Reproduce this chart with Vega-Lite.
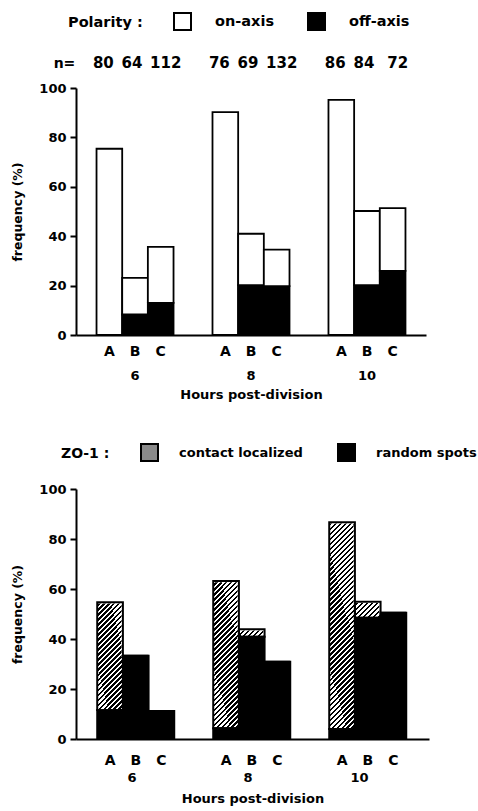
{
  "$schema": "https://vega.github.io/schema/vega-lite/v6.json",
  "background": "white",
  "padding": {"left": 11, "right": 5, "top": 12, "bottom": 5},
  "spacing": 42,
  "resolve": {"scale": {"fill": "independent"}, "legend": {"fill": "independent"}},
  "config": {
    "font": "DejaVu Sans",
    "view": {"stroke": null},
    "axis": {"labelFont": "DejaVu Sans", "titleFont": "DejaVu Sans", "labelFontWeight": "bold", "titleFontWeight": "bold", "labelColor": "black", "titleColor": "black", "domainColor": "black", "tickColor": "black", "domainWidth": 2, "tickWidth": 2, "grid": false},
    "legend": {"labelFont": "DejaVu Sans", "titleFont": "DejaVu Sans", "labelFontWeight": "bold", "titleFontWeight": "bold", "labelColor": "black", "titleColor": "black", "labelLimit": 300, "titleLimit": 300},
    "text": {"font": "DejaVu Sans", "fontWeight": "bold", "color": "black"}
  },
  "datasets": {
    "polarity": [
      {"h": "6", "g": "A", "type": "off-axis", "v": 0}, {"h": "6", "g": "A", "type": "on-axis", "v": 75.4},
      {"h": "6", "g": "B", "type": "off-axis", "v": 8.3}, {"h": "6", "g": "B", "type": "on-axis", "v": 14.8},
      {"h": "6", "g": "C", "type": "off-axis", "v": 13}, {"h": "6", "g": "C", "type": "on-axis", "v": 22.7},
      {"h": "8", "g": "A", "type": "off-axis", "v": 0}, {"h": "8", "g": "A", "type": "on-axis", "v": 90.2},
      {"h": "8", "g": "B", "type": "off-axis", "v": 20.2}, {"h": "8", "g": "B", "type": "on-axis", "v": 20.8},
      {"h": "8", "g": "C", "type": "off-axis", "v": 19.8}, {"h": "8", "g": "C", "type": "on-axis", "v": 14.8},
      {"h": "10", "g": "A", "type": "off-axis", "v": 0}, {"h": "10", "g": "A", "type": "on-axis", "v": 95.2},
      {"h": "10", "g": "B", "type": "off-axis", "v": 20.2}, {"h": "10", "g": "B", "type": "on-axis", "v": 30},
      {"h": "10", "g": "C", "type": "off-axis", "v": 26}, {"h": "10", "g": "C", "type": "on-axis", "v": 25.4}
    ],
    "polarity_n": [
      {"h": "6", "g": "A", "n": "80"}, {"h": "6", "g": "B", "n": "64"}, {"h": "6", "g": "C", "n": "112"},
      {"h": "8", "g": "A", "n": "76"}, {"h": "8", "g": "B", "n": "69"}, {"h": "8", "g": "C", "n": "132"},
      {"h": "10", "g": "A", "n": "86"}, {"h": "10", "g": "B", "n": "84"}, {"h": "10", "g": "C", "n": "72"}
    ],
    "zo1": [
      {"h": "6", "g": "A", "type": "random spots", "v": 11.6}, {"h": "6", "g": "A", "type": "contact localized", "v": 43.1},
      {"h": "6", "g": "B", "type": "random spots", "v": 33.3}, {"h": "6", "g": "B", "type": "contact localized", "v": 0},
      {"h": "6", "g": "C", "type": "random spots", "v": 11.2}, {"h": "6", "g": "C", "type": "contact localized", "v": 0},
      {"h": "8", "g": "A", "type": "random spots", "v": 4.3}, {"h": "8", "g": "A", "type": "contact localized", "v": 58.9},
      {"h": "8", "g": "B", "type": "random spots", "v": 40.9}, {"h": "8", "g": "B", "type": "contact localized", "v": 3},
      {"h": "8", "g": "C", "type": "random spots", "v": 30.9}, {"h": "8", "g": "C", "type": "contact localized", "v": 0},
      {"h": "10", "g": "A", "type": "random spots", "v": 4}, {"h": "10", "g": "A", "type": "contact localized", "v": 82.7},
      {"h": "10", "g": "B", "type": "random spots", "v": 48.5}, {"h": "10", "g": "B", "type": "contact localized", "v": 6.4},
      {"h": "10", "g": "C", "type": "random spots", "v": 50.5}, {"h": "10", "g": "C", "type": "contact localized", "v": 0}
    ]
  },
  "vconcat": [
    {
      "width": 350,
      "height": 247,
      "layer": [
        {
          "data": {"name": "polarity"},
          "mark": {"type": "bar", "stroke": "black", "strokeWidth": 1.8},
          "encoding": {
            "x": {"field": "h", "type": "nominal", "sort": ["6", "8", "10"], "title": "Hours post-division",
                  "scale": {"paddingInner": 0.336, "paddingOuter": 0.177},
                  "axis": {"labelAngle": 0, "ticks": false, "tickSize": 0, "labelPadding": 34, "labelFontSize": 13, "titleFontSize": 13, "titlePadding": 6}},
            "xOffset": {"field": "g", "type": "nominal", "sort": ["A", "B", "C"], "scale": {"paddingInner": 0, "paddingOuter": 0}},
            "y": {"field": "v", "type": "quantitative", "stack": "zero", "title": "frequency (%)",
                  "scale": {"domain": [0, 100], "nice": false},
                  "axis": {"values": [0, 10, 20, 30, 40, 50, 60, 70, 80, 90, 100],
                           "labelExpr": "datum.value % 20 === 0 ? datum.label : ''",
                           "tickSize": {"condition": {"test": "datum.value % 20 === 0", "value": 6}, "value": 3},
                           "labelPadding": 4, "labelFontSize": 13, "titleFontSize": 12.5, "titlePadding": 14}},
            "fill": {"field": "type", "type": "nominal",
                     "scale": {"domain": ["on-axis", "off-axis"], "range": ["white", "black"]},
                     "legend": {"title": "Polarity :", "orient": "none", "legendX": -8, "legendY": -76, "direction": "horizontal", "titleOrient": "left",
                                "symbolType": "square", "symbolSize": 289, "symbolStrokeColor": "black", "symbolStrokeWidth": 2,
                                "labelFontSize": 14.5, "titleFontSize": 14.5, "labelOffset": 23, "columnPadding": 29, "titlePadding": 30}},
            "order": {"field": "type", "type": "nominal", "sort": "ascending"}
          }
        },
        {
          "data": {"name": "polarity_n"},
          "transform": [{"filter": "datum.g === 'A'"}],
          "mark": {"type": "text", "fontSize": 15, "baseline": "alphabetic", "dx": -6},
          "encoding": {
            "x": {"field": "h", "type": "nominal", "sort": ["6", "8", "10"], "title": "Hours post-division"},
            "xOffset": {"field": "g", "type": "nominal", "sort": ["A", "B", "C"]},
            "y": {"datum": 108, "type": "quantitative", "title": "frequency (%)"},
            "text": {"field": "n"}
          }
        },
        {
          "data": {"name": "polarity_n"},
          "transform": [{"filter": "datum.g === 'B'"}],
          "mark": {"type": "text", "fontSize": 15, "baseline": "alphabetic", "dx": -3},
          "encoding": {
            "x": {"field": "h", "type": "nominal", "sort": ["6", "8", "10"], "title": "Hours post-division"},
            "xOffset": {"field": "g", "type": "nominal", "sort": ["A", "B", "C"]},
            "y": {"datum": 108, "type": "quantitative", "title": "frequency (%)"},
            "text": {"field": "n"}
          }
        },
        {
          "data": {"name": "polarity_n"},
          "transform": [{"filter": "datum.g === 'C'"}],
          "mark": {"type": "text", "fontSize": 15, "baseline": "alphabetic", "dx": 5},
          "encoding": {
            "x": {"field": "h", "type": "nominal", "sort": ["6", "8", "10"], "title": "Hours post-division"},
            "xOffset": {"field": "g", "type": "nominal", "sort": ["A", "B", "C"]},
            "y": {"datum": 108, "type": "quantitative", "title": "frequency (%)"},
            "text": {"field": "n"}
          }
        },
        {
          "data": {"name": "polarity_n"},
          "transform": [{"filter": "datum.h === '6' && datum.g === 'A'"}],
          "mark": {"type": "text", "fontSize": 14, "baseline": "alphabetic", "align": "right", "dx": -34},
          "encoding": {
            "x": {"field": "h", "type": "nominal", "sort": ["6", "8", "10"], "title": "Hours post-division"},
            "xOffset": {"field": "g", "type": "nominal", "sort": ["A", "B", "C"]},
            "y": {"datum": 108, "type": "quantitative", "title": "frequency (%)"},
            "text": {"value": "n="}
          }
        },
        {
          "data": {"name": "polarity_n"},
          "mark": {"type": "text", "fontSize": 14, "baseline": "top"},
          "encoding": {
            "x": {"field": "h", "type": "nominal", "sort": ["6", "8", "10"], "title": "Hours post-division"},
            "xOffset": {"field": "g", "type": "nominal", "sort": ["A", "B", "C"]},
            "y": {"datum": -4, "type": "quantitative", "title": "frequency (%)"},
            "text": {"field": "g"}
          }
        }
      ]
    },
    {
      "width": 353,
      "height": 250,
      "data": {"name": "zo1"},
      "layer": [
        {
          "transform": [{"filter": "datum.type === 'contact localized' && datum.v > 0"}],
          "mark": {"type": "bar", "strokeWidth": 0, "fill": {"gradient": "linear", "x1": 0, "y1": 0, "x2": 0.11453, "y2": 1.0928, "stops": [
            {"offset":0,"color":"#000"},
            {"offset":0.00909,"color":"#000"},{"offset":0.00909,"color":"#fff"},
            {"offset":0.01818,"color":"#fff"},{"offset":0.01818,"color":"#000"},
            {"offset":0.02727,"color":"#000"},{"offset":0.02727,"color":"#fff"},
            {"offset":0.03636,"color":"#fff"},{"offset":0.03636,"color":"#000"},
            {"offset":0.04545,"color":"#000"},{"offset":0.04545,"color":"#fff"},
            {"offset":0.05455,"color":"#fff"},{"offset":0.05455,"color":"#000"},
            {"offset":0.06364,"color":"#000"},{"offset":0.06364,"color":"#fff"},
            {"offset":0.07273,"color":"#fff"},{"offset":0.07273,"color":"#000"},
            {"offset":0.08182,"color":"#000"},{"offset":0.08182,"color":"#fff"},
            {"offset":0.09091,"color":"#fff"},{"offset":0.09091,"color":"#000"},
            {"offset":0.1,"color":"#000"},{"offset":0.1,"color":"#fff"},
            {"offset":0.10909,"color":"#fff"},{"offset":0.10909,"color":"#000"},
            {"offset":0.11818,"color":"#000"},{"offset":0.11818,"color":"#fff"},
            {"offset":0.12727,"color":"#fff"},{"offset":0.12727,"color":"#000"},
            {"offset":0.13636,"color":"#000"},{"offset":0.13636,"color":"#fff"},
            {"offset":0.14545,"color":"#fff"},{"offset":0.14545,"color":"#000"},
            {"offset":0.15455,"color":"#000"},{"offset":0.15455,"color":"#fff"},
            {"offset":0.16364,"color":"#fff"},{"offset":0.16364,"color":"#000"},
            {"offset":0.17273,"color":"#000"},{"offset":0.17273,"color":"#fff"},
            {"offset":0.18182,"color":"#fff"},{"offset":0.18182,"color":"#000"},
            {"offset":0.19091,"color":"#000"},{"offset":0.19091,"color":"#fff"},
            {"offset":0.2,"color":"#fff"},{"offset":0.2,"color":"#000"},
            {"offset":0.20909,"color":"#000"},{"offset":0.20909,"color":"#fff"},
            {"offset":0.21818,"color":"#fff"},{"offset":0.21818,"color":"#000"},
            {"offset":0.22727,"color":"#000"},{"offset":0.22727,"color":"#fff"},
            {"offset":0.23636,"color":"#fff"},{"offset":0.23636,"color":"#000"},
            {"offset":0.24545,"color":"#000"},{"offset":0.24545,"color":"#fff"},
            {"offset":0.25455,"color":"#fff"},{"offset":0.25455,"color":"#000"},
            {"offset":0.26364,"color":"#000"},{"offset":0.26364,"color":"#fff"},
            {"offset":0.27273,"color":"#fff"},{"offset":0.27273,"color":"#000"},
            {"offset":0.28182,"color":"#000"},{"offset":0.28182,"color":"#fff"},
            {"offset":0.29091,"color":"#fff"},{"offset":0.29091,"color":"#000"},
            {"offset":0.3,"color":"#000"},{"offset":0.3,"color":"#fff"},
            {"offset":0.30909,"color":"#fff"},{"offset":0.30909,"color":"#000"},
            {"offset":0.31818,"color":"#000"},{"offset":0.31818,"color":"#fff"},
            {"offset":0.32727,"color":"#fff"},{"offset":0.32727,"color":"#000"},
            {"offset":0.33636,"color":"#000"},{"offset":0.33636,"color":"#fff"},
            {"offset":0.34545,"color":"#fff"},{"offset":0.34545,"color":"#000"},
            {"offset":0.35455,"color":"#000"},{"offset":0.35455,"color":"#fff"},
            {"offset":0.36364,"color":"#fff"},{"offset":0.36364,"color":"#000"},
            {"offset":0.37273,"color":"#000"},{"offset":0.37273,"color":"#fff"},
            {"offset":0.38182,"color":"#fff"},{"offset":0.38182,"color":"#000"},
            {"offset":0.39091,"color":"#000"},{"offset":0.39091,"color":"#fff"},
            {"offset":0.4,"color":"#fff"},{"offset":0.4,"color":"#000"},
            {"offset":0.40909,"color":"#000"},{"offset":0.40909,"color":"#fff"},
            {"offset":0.41818,"color":"#fff"},{"offset":0.41818,"color":"#000"},
            {"offset":0.42727,"color":"#000"},{"offset":0.42727,"color":"#fff"},
            {"offset":0.43636,"color":"#fff"},{"offset":0.43636,"color":"#000"},
            {"offset":0.44545,"color":"#000"},{"offset":0.44545,"color":"#fff"},
            {"offset":0.45455,"color":"#fff"},{"offset":0.45455,"color":"#000"},
            {"offset":0.46364,"color":"#000"},{"offset":0.46364,"color":"#fff"},
            {"offset":0.47273,"color":"#fff"},{"offset":0.47273,"color":"#000"},
            {"offset":0.48182,"color":"#000"},{"offset":0.48182,"color":"#fff"},
            {"offset":0.49091,"color":"#fff"},{"offset":0.49091,"color":"#000"},
            {"offset":0.5,"color":"#000"},{"offset":0.5,"color":"#fff"},
            {"offset":0.50909,"color":"#fff"},{"offset":0.50909,"color":"#000"},
            {"offset":0.51818,"color":"#000"},{"offset":0.51818,"color":"#fff"},
            {"offset":0.52727,"color":"#fff"},{"offset":0.52727,"color":"#000"},
            {"offset":0.53636,"color":"#000"},{"offset":0.53636,"color":"#fff"},
            {"offset":0.54545,"color":"#fff"},{"offset":0.54545,"color":"#000"},
            {"offset":0.55455,"color":"#000"},{"offset":0.55455,"color":"#fff"},
            {"offset":0.56364,"color":"#fff"},{"offset":0.56364,"color":"#000"},
            {"offset":0.57273,"color":"#000"},{"offset":0.57273,"color":"#fff"},
            {"offset":0.58182,"color":"#fff"},{"offset":0.58182,"color":"#000"},
            {"offset":0.59091,"color":"#000"},{"offset":0.59091,"color":"#fff"},
            {"offset":0.6,"color":"#fff"},{"offset":0.6,"color":"#000"},
            {"offset":0.60909,"color":"#000"},{"offset":0.60909,"color":"#fff"},
            {"offset":0.61818,"color":"#fff"},{"offset":0.61818,"color":"#000"},
            {"offset":0.62727,"color":"#000"},{"offset":0.62727,"color":"#fff"},
            {"offset":0.63636,"color":"#fff"},{"offset":0.63636,"color":"#000"},
            {"offset":0.64545,"color":"#000"},{"offset":0.64545,"color":"#fff"},
            {"offset":0.65455,"color":"#fff"},{"offset":0.65455,"color":"#000"},
            {"offset":0.66364,"color":"#000"},{"offset":0.66364,"color":"#fff"},
            {"offset":0.67273,"color":"#fff"},{"offset":0.67273,"color":"#000"},
            {"offset":0.68182,"color":"#000"},{"offset":0.68182,"color":"#fff"},
            {"offset":0.69091,"color":"#fff"},{"offset":0.69091,"color":"#000"},
            {"offset":0.7,"color":"#000"},{"offset":0.7,"color":"#fff"},
            {"offset":0.70909,"color":"#fff"},{"offset":0.70909,"color":"#000"},
            {"offset":0.71818,"color":"#000"},{"offset":0.71818,"color":"#fff"},
            {"offset":0.72727,"color":"#fff"},{"offset":0.72727,"color":"#000"},
            {"offset":0.73636,"color":"#000"},{"offset":0.73636,"color":"#fff"},
            {"offset":0.74545,"color":"#fff"},{"offset":0.74545,"color":"#000"},
            {"offset":0.75455,"color":"#000"},{"offset":0.75455,"color":"#fff"},
            {"offset":0.76364,"color":"#fff"},{"offset":0.76364,"color":"#000"},
            {"offset":0.77273,"color":"#000"},{"offset":0.77273,"color":"#fff"},
            {"offset":0.78182,"color":"#fff"},{"offset":0.78182,"color":"#000"},
            {"offset":0.79091,"color":"#000"},{"offset":0.79091,"color":"#fff"},
            {"offset":0.8,"color":"#fff"},{"offset":0.8,"color":"#000"},
            {"offset":0.80909,"color":"#000"},{"offset":0.80909,"color":"#fff"},
            {"offset":0.81818,"color":"#fff"},{"offset":0.81818,"color":"#000"},
            {"offset":0.82727,"color":"#000"},{"offset":0.82727,"color":"#fff"},
            {"offset":0.83636,"color":"#fff"},{"offset":0.83636,"color":"#000"},
            {"offset":0.84545,"color":"#000"},{"offset":0.84545,"color":"#fff"},
            {"offset":0.85455,"color":"#fff"},{"offset":0.85455,"color":"#000"},
            {"offset":0.86364,"color":"#000"},{"offset":0.86364,"color":"#fff"},
            {"offset":0.87273,"color":"#fff"},{"offset":0.87273,"color":"#000"},
            {"offset":0.88182,"color":"#000"},{"offset":0.88182,"color":"#fff"},
            {"offset":0.89091,"color":"#fff"},{"offset":0.89091,"color":"#000"},
            {"offset":0.9,"color":"#000"},{"offset":0.9,"color":"#fff"},
            {"offset":0.90909,"color":"#fff"},{"offset":0.90909,"color":"#000"},
            {"offset":0.91818,"color":"#000"},{"offset":0.91818,"color":"#fff"},
            {"offset":0.92727,"color":"#fff"},{"offset":0.92727,"color":"#000"},
            {"offset":0.93636,"color":"#000"},{"offset":0.93636,"color":"#fff"},
            {"offset":0.94545,"color":"#fff"},{"offset":0.94545,"color":"#000"},
            {"offset":0.95455,"color":"#000"},{"offset":0.95455,"color":"#fff"},
            {"offset":0.96364,"color":"#fff"},{"offset":0.96364,"color":"#000"},
            {"offset":0.97273,"color":"#000"},{"offset":0.97273,"color":"#fff"},
            {"offset":0.98182,"color":"#fff"},{"offset":0.98182,"color":"#000"},
            {"offset":0.99091,"color":"#000"},{"offset":0.99091,"color":"#fff"},
            {"offset":1,"color":"#fff"}
          ]}},
          "encoding": {
            "x": {"field": "h", "type": "nominal", "sort": ["6", "8", "10"], "title": "Hours post-division"},
            "xOffset": {"field": "g", "type": "nominal", "sort": ["A", "B", "C"]},
            "y": {"datum": 100, "type": "quantitative", "title": "frequency (%)"},
            "y2": {"datum": 0}
          }
        },
        {
          "mark": {"type": "bar", "fill": "white", "stroke": "white", "strokeWidth": 2.5},
          "encoding": {
            "x": {"field": "h", "type": "nominal", "sort": ["6", "8", "10"], "title": "Hours post-division"},
            "xOffset": {"field": "g", "type": "nominal", "sort": ["A", "B", "C"]},
            "y": {"aggregate": "sum", "field": "v", "type": "quantitative", "title": "frequency (%)"},
            "y2": {"datum": 100}
          }
        },
        {
          "mark": {"type": "bar", "stroke": "black", "strokeWidth": 2},
          "encoding": {
            "x": {"field": "h", "type": "nominal", "sort": ["6", "8", "10"], "title": "Hours post-division",
                  "scale": {"paddingInner": 0.323, "paddingOuter": 0.183},
                  "axis": {"labelAngle": 0, "ticks": false, "tickSize": 0, "labelPadding": 38, "labelFontSize": 13, "titleFontSize": 13, "titlePadding": 8}},
            "xOffset": {"field": "g", "type": "nominal", "sort": ["A", "B", "C"], "scale": {"paddingInner": 0, "paddingOuter": 0}},
            "y": {"field": "v", "type": "quantitative", "stack": "zero", "title": "frequency (%)",
                  "scale": {"domain": [0, 100], "nice": false},
                  "axis": {"values": [0, 10, 20, 30, 40, 50, 60, 70, 80, 90, 100],
                           "labelExpr": "datum.value % 20 === 0 ? datum.label : ''",
                           "tickSize": {"condition": {"test": "datum.value % 20 === 0", "value": 6}, "value": 3},
                           "labelPadding": 4, "labelFontSize": 13, "titleFontSize": 12.5, "titlePadding": 14}},
            "fill": {"condition": {"test": "datum.type === 'contact localized'", "value": "transparent"},
                     "field": "type", "type": "nominal",
                     "scale": {"domain": ["contact localized", "random spots"], "range": ["#8a8a8a", "black"]},
                     "legend": {"title": "ZO-1 :", "orient": "none", "legendX": -15, "legendY": -46, "direction": "horizontal", "titleOrient": "left",
                                "symbolType": "square", "symbolSize": 289, "symbolStrokeColor": "black", "symbolStrokeWidth": 2,
                                "labelFontSize": 13, "titleFontSize": 14, "labelOffset": 20, "columnPadding": 31, "titlePadding": 30}},
            "order": {"field": "type", "type": "nominal", "sort": "descending"}
          }
        },
        {
          "transform": [{"filter": "datum.type === 'random spots'"}],
          "mark": {"type": "text", "fontSize": 14, "baseline": "top"},
          "encoding": {
            "x": {"field": "h", "type": "nominal", "sort": ["6", "8", "10"], "title": "Hours post-division"},
            "xOffset": {"field": "g", "type": "nominal", "sort": ["A", "B", "C"]},
            "y": {"datum": -6, "type": "quantitative", "title": "frequency (%)"},
            "text": {"field": "g"}
          }
        }
      ]
    }
  ]
}
